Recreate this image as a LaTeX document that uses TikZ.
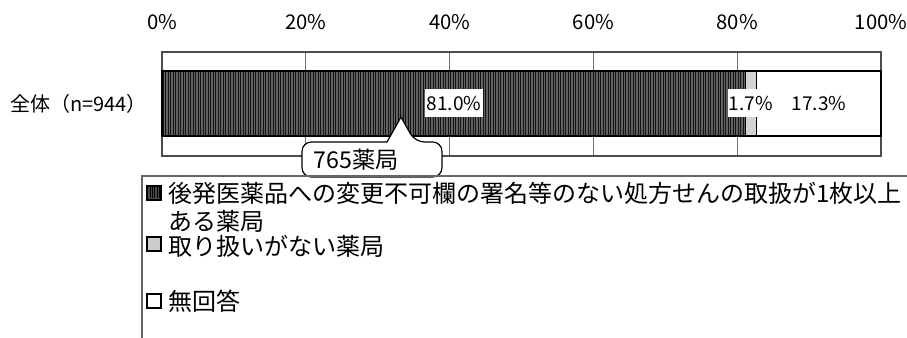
\documentclass[tikz,border=0pt]{standalone}
\usepackage{fontspec}
\setmainfont{Noto Sans CJK JP}
\begin{document}
\begin{tikzpicture}[x=0.75pt,y=-0.75pt,
  axlab/.style={inner sep=0pt,font=\fontsize{15.2}{18}\selectfont},
  barlab/.style={inner sep=1pt,fill=white,minimum height=21pt,font=\fontsize{14.3}{16}\selectfont},
  leglab/.style={inner sep=0pt,anchor=west,font=\fontsize{18}{20}\selectfont},
  seg/.style={draw=black,line width=1.1pt},
  legmark/.style={draw=black,line width=1.1pt,minimum size=10.2pt,inner sep=0pt},
  gridline/.style={draw=black!55,line width=0.75pt}]
\useasboundingbox (0,0) rectangle (907,338);
% plot area
\draw[gridline] (305.8,52) -- (305.8,156) (449.6,52) -- (449.6,156) (593.4,52) -- (593.4,156) (737.2,52) -- (737.2,156);
\draw[draw=black!70,line width=0.9pt] (162,52) rectangle (881,156);
% axis labels
\foreach \p/\t in {0/0\%,20/20\%,40/40\%,60/60\%,80/80\%,100/100\%}
  \node[axlab] (ax\p) at ({162+7.19*\p},22) {\t};
% category label
\node[inner sep=0pt,anchor=east,font=\fontsize{15}{18}\selectfont] (cat) at (147,104) {全体（n=944）};
% bars
\fill[black!62] (162,71) rectangle (745.7,136);
\foreach \i in {0,...,232} \draw[black!92,line width=0.55pt] ({163+2.5*\i},71) -- ({163+2.5*\i},136);
\draw[seg] (162,71) rectangle (745.7,136);
\draw[seg,fill=black!17] (745.7,71) rectangle (756.7,136);
\draw[seg,fill=white] (756.7,71) rectangle (881,136);
% bar labels
\node[barlab] (l1) at (454,103.5) {81.0\%};
\node[barlab] (l2) at (751,103.5) {1.7\%};
\node[barlab] (l3) at (819,103.5) {17.3\%};
% callout
\draw[fill=white,line width=0.9pt,rounded corners=7pt] (387,142) -- (302,142) -- (302,177) -- (442,177) -- (442,142) -- (415,142) [sharp corners] -- (401,117) -- cycle;
\node[inner sep=0pt,font=\fontsize{17.4}{20}\selectfont] (call) at (356,159.5) {765薬局};
% legend
\draw[draw=black!60,line width=0.9pt] (142,338) -- (142,176) -- (907,176);
\node[legmark,fill=black!70] (m1) at (154,193) {};
\foreach \i in {0,...,4} \draw[black,line width=0.5pt] ({150+2.4*\i},187.5) -- ({150+2.4*\i},198.5);
\node[legmark,fill=black!20] (m2) at (154,244) {};
\node[legmark,fill=white] (m3) at (154,301) {};
\node[leglab] (t1a) at (168,193) {後発医薬品への変更不可欄の署名等のない処方せんの取扱が1枚以上};
\node[leglab] (t1b) at (168,221) {ある薬局};
\node[leglab] (t2) at (168,246) {取り扱いがない薬局};
\node[leglab] (t3) at (168,301) {無回答};
\end{tikzpicture}
\end{document}
